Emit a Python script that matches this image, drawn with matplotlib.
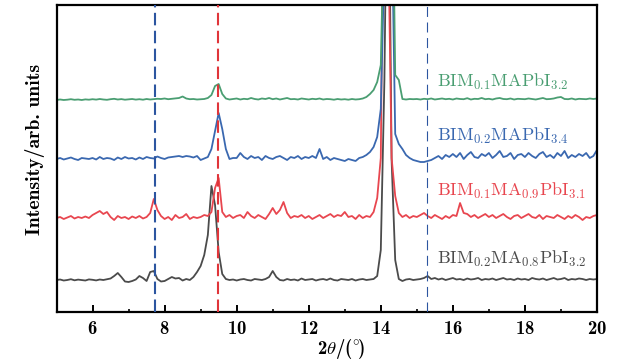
import numpy as np
import matplotlib
matplotlib.use("Agg")
import matplotlib.pyplot as plt

plt.rcParams['font.family'] = 'cmb10'
plt.rcParams['mathtext.fontset'] = 'cm'
plt.rcParams['axes.formatter.use_mathtext'] = True

# 2theta grid, 0.1 deg steps from 5 to 20
two_theta = np.round(np.arange(5.0, 20.0001, 0.1), 1)

# intensities (relative to each trace's own baseline)
gray = [
    0, 0.5, -0.5, 0, 0.8, -0.3, 0.4, 0, -0.5, 0.6,
    0.2, -0.4, 0.5, 0, 0.8, 1.5, 4, 7, 3, -1.5,
    -2, -1, 0.5, 4, 2, -1, 8, 9, 1, -1.5,
    -1, 1, 3, 1.5, 2, -0.5, 1, 0, 3, 8,
    14, 25, 45, 94, 75, 28, 6, 1, 0, 0.5,
    -0.5, 0.5, 1, 0, -0.5, 1, 0.5, 0, 1, 3,
    9, 3, 0, -0.5, 1, 0, 0.5, -0.5, 1.5, 0,
    0.5, 1, -0.5, 0.5, 1, 0, 1.5, 0, -0.5, 1,
    0.5, 0, 1, -0.5, 0.5, 1, 0, 0.5, 1, 4,
    30, 200, 500, 120, 20, 1, -1, 0.5, 1, 0,
    0.5, 1, 2, 4, 1, 2, 0.5, 1.5, 0, 1,
    2, 0.5, 1, 0, 1.5, 0.5, 1, 2, 0, 1,
    0.5, 1.5, 0, 1, 2, 0.5, 1, 0, 1.5, 0.5,
    1, 0, 2, 1, 0.5, 1.5, 0, 1, 2, 0.5,
    1, 2, 0, 1, 0.5, 1.5, 1, 0, 1, 0.5,
    1,
]
red = [
    0, 1, -1, 0.5, 2, -0.5, 1, 0, 1.5, 0,
    3, 5, 7, 4, 6, 1, -2, 2, 0, 1,
    -1, 1.5, 0, 2, -0.5, 1, 5, 19, 8, 2,
    -1, 1, -2, 3, 0, 1, 4, -1, 1, 0,
    1, 3, 2, 6, 30, 40, 6, 1, 3, 0,
    2, 3, 0, 6, 2, 0, 3, 1, -1, 4,
    10, 4, 8, 16, 5, 0, 2, 1, 3, 0,
    2, -1, 1, 3, 0, 2, 4, 1, 3, 2,
    6, 1, 2, -1, 3, 0, 2, 1, 6, 20,
    60, 450, 300, 60, 22, 5, 1, 3, 0, 2,
    1, 3, 5, 2, 0, 3, 1, -1, 2, 0,
    3, 2, 15, 5, 4, 1, 3, 0, 2, 4,
    1, 3, 0, 2, 4, 1, -1, 2, 3, 0,
    2, 4, 1, 0, 3, -1, 2, 1, 0, 3,
    1, -1, 2, 0, 3, 1, -2, 1, 0, 2,
    3,
]
blue = [
    0, 1, -0.5, 0.5, 1.5, 0, -1, 1, 0.5, 0,
    1, -0.5, 2, 0, 1, 0.5, -1, 1.5, 0, 2,
    0.5, 1, -0.5, 1.5, 0, 2, 1, 0.5, 2.5, 1,
    0, 1.5, 2, 2.5, 3, 2, 3, 2.5, 1.5, 3,
    -1, 0.5, 2, 10, 28, 46, 30, 10, 0, 1,
    1, 6, 2, 0, 3, 1, 2, -1, 3, 1,
    0, 2, 3, 1, -1, 2, 1, 3, 0, 2,
    1, 3, 1, 10, 0, 2, -1, 1, 0, -1,
    -2, 0, -1, -2, 1, 2, 4, 7, 12, 22,
    50, 200, 500, 250, 25, 15, 10, 4, 1, -1,
    -2, -3, -3, -2, -1, 1, 3, 0, 4, 2,
    5, 2, 6, 0, 4, 7, 2, 1, 5, 3,
    6, 1, 4, 8, 2, 3, 6, 0, 4, 5,
    2, 6, 3, 1, 5, 7, 2, 4, 1, 6,
    3, 8, 1, 4, 2, 5, 3, 6, 1, 3,
    9,
]
green = [
    0, 0.5, 0, 0.3, 0.8, 0.2, 0.5, 0, 0.6, 0.3,
    0.8, 0.4, 1, 0.5, 0.2, 0.8, 1.2, 0.5, 0.9, 0.3,
    0.6, 1, 0.4, 0.8, 0.3, 1, 0.5, 0.8, 1.2, 1,
    1.5, 0.8, 1.2, 1.5, 2, 3.5, 1.5, 0.8, 1, 0.5,
    0.8, 1, 2, 5, 14, 16, 6, 1.5, 0.5, 1,
    1.5, 0.5, 1.2, 0.8, 2, 1, 0.5, 1.5, 1, 2,
    0.8, 1.5, 0.5, 1.2, 2, 0.8, 1, 0.5, 1.5, 1,
    0.5, 1.2, 0.8, 1.5, 0.5, 1, 0.8, 0.3, 1, 0.5,
    0.8, 0.3, 1, 0.5, 0.8, 1.5, 3, 6, 10, 18,
    35, 200, 500, 300, 25, 20, 1, 0.5, 1, 0.8,
    1, 0.5, 1.2, 0.8, 1.5, 0.5, 1, 1.5, 0.8, 1.2,
    0.5, 1.5, 1, 0.8, 1.8, 0.5, 1.2, 1, 2, 0.8,
    1.2, 0.5, 1.5, 2, 1, 0.8, 1.5, 0.5, 1.2, 1,
    0.8, 1.5, 1, 0.5, 1.2, 2, 0.8, 1, 1.5, 2.5,
    3, 1, 0.8, 1.5, 0.5, 1.2, 1, 0.8, 1.5, 1,
    1.5,
]

labels = [
    r'$\mathrm{BIM_{0.2}MA_{0.8}PbI_{3.2}}$',
    r'$\mathrm{BIM_{0.1}MA_{0.9}PbI_{3.1}}$',
    r'$\mathrm{BIM_{0.2}MAPbI_{3.4}}$',
    r'$\mathrm{BIM_{0.1}MAPbI_{3.2}}$',
]
series = [gray, red, blue, green]
colors = ['#4b4b4b', '#e8464f', '#3a68b0', '#4a9e72']
offsets = [32, 94, 153, 212]
label_y = [48, 116, 171, 225]

# reference lines (deg)
ref_lines = [(7.73, '#2c55a0', 1.5, (6, 2.6)),
             (9.48, '#e0353a', 1.5, (6, 2.6)),
             (15.29, '#2c55a0', 0.8, (9, 5))]

fig = plt.figure(figsize=(6.3, 3.62), dpi=100)
ax = fig.add_axes([0.0897, 0.1381, 0.8579, 0.8481])

for ys, c, off in zip(series, colors, offsets):
    ax.plot(two_theta, np.array(ys) + off, color=c, lw=1.3)

for xv, c, lw, dash in ref_lines:
    ax.axvline(xv, color=c, lw=lw, linestyle=(0, dash), zorder=5)

for lab, c, yl in zip(labels, colors, label_y):
    ax.text(15.55, yl, lab, color=c, fontsize=13, ha='left', va='baseline')

ax.set_xlim(5, 20)
ax.set_ylim(0, 307)
ax.set_xticks([6, 8, 10, 12, 14, 16, 18, 20])
ax.set_xticks(np.arange(5, 20, 1), minor=True)
ax.set_yticks([])
ax.tick_params(axis='x', which='major', direction='in', length=5, width=1.4,
               labelsize=13.5, pad=6)
ax.tick_params(axis='x', which='minor', direction='in', length=2.5, width=1.2)
for sp in ax.spines.values():
    sp.set_linewidth(1.6)

ax.set_xlabel(r'2$\theta$/($^{\circ}\!$)', fontsize=13.5)
ax.xaxis.set_label_coords(0.526, -0.08)
ax.set_ylabel('Intensity/arb. units', fontsize=14.2)
ax.yaxis.set_label_coords(-0.022, 0.531)

fig.savefig('out.png', dpi=100)
